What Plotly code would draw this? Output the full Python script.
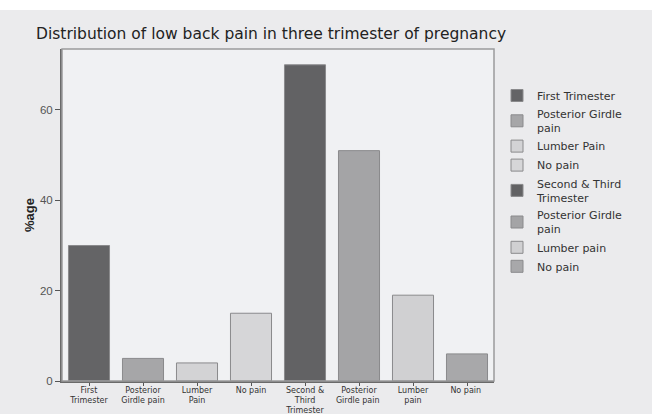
import plotly.graph_objects as go

categories = ["First<br>Trimester", "Posterior<br>Girdle pain", "Lumber<br>Pain", "No pain",
              "Second &<br>Third<br>Trimester", "Posterior<br>Girdle pain ", "Lumber<br>pain", "No pain "]
legend_names = ["First Trimester", "Posterior Girdle<br>pain", "Lumber Pain", "No pain",
                "Second & Third<br>Trimester", "Posterior Girdle<br>pain", "Lumber pain", "No pain"]
values = [30, 5, 4, 15, 70, 51, 19, 6]
colors = ["#646466", "#a6a6a8", "#d3d3d5", "#d6d6d8", "#626264", "#a4a4a6", "#d0d0d2", "#a8a8aa"]

fig = go.Figure()
for cat, name, v, c in zip(categories, legend_names, values, colors):
    fig.add_trace(go.Bar(x=[cat], y=[v], name=name, marker_color=c,
                         marker_line=dict(color="#8a8a8c", width=1)))

W, H = 652, 414
L, R, T, B = 62, 158, 49, 33
pw = W - L - R
ph = H - T - B
fig.update_layout(
    width=W, height=H,
    margin=dict(l=L, r=R, t=T, b=B, autoexpand=False),
    paper_bgcolor="#ebebed",
    plot_bgcolor="#f0f1f3",
    barmode="overlay",
    bargap=0.24,
    title=dict(text="Distribution of low back pain in three trimester of pregnancy",
               x=36 / W, xanchor="left", y=1 - 34 / H, yanchor="middle",
               font=dict(family="DejaVu Sans", size=15.5, color="#222")),
    legend=dict(x=(497 - L) / pw, y=1 - (81 - T) / ph, xanchor="left", yanchor="top",
                font=dict(family="DejaVu Sans", size=11, color="#333"),
                tracegroupgap=0, itemwidth=30, bgcolor="rgba(0,0,0,0)"),
    showlegend=True,
)
fig.update_xaxes(type="category", categoryorder="array", categoryarray=categories,
                 ticks="outside", ticklen=3, tickcolor="#555", showline=True,
                 linecolor="#6a6a6a", linewidth=2, mirror=False, automargin=False,
                 ticklabelstandoff=-3,
                 tickfont=dict(family="DejaVu Sans", size=8, color="#333"),
                 showgrid=False)
fig.update_yaxes(range=[0, 73.5], tickvals=[0, 20, 40, 60], ticks="outside", ticklen=5,
                 tickcolor="#555", showline=True, linecolor="#6a6a6a", linewidth=2,
                 showgrid=False, zeroline=False, automargin=False,
                 tickfont=dict(family="Liberation Sans", size=11.5, color="#555"),
                 title=dict(text="<b>%age</b>", standoff=2,
                            font=dict(family="Liberation Sans", size=13, color="#222")))
# plot frame
fig.add_shape(type="rect", xref="paper", yref="paper", x0=0, x1=1, y0=0, y1=1,
              line=dict(color="#9a9a9c", width=1.5), layer="above")
# white strip at top
fig.add_shape(type="rect", xref="paper", yref="paper", x0=-L / pw, x1=1 + R / pw,
              y0=1 + (T - 10) / ph, y1=1 + T / ph, fillcolor="white", line=dict(width=0))
fig.write_html("out.html", config={"displayModeBar": False},
               post_script="document.body.style.margin='0px';document.body.style.overflow='hidden';")
